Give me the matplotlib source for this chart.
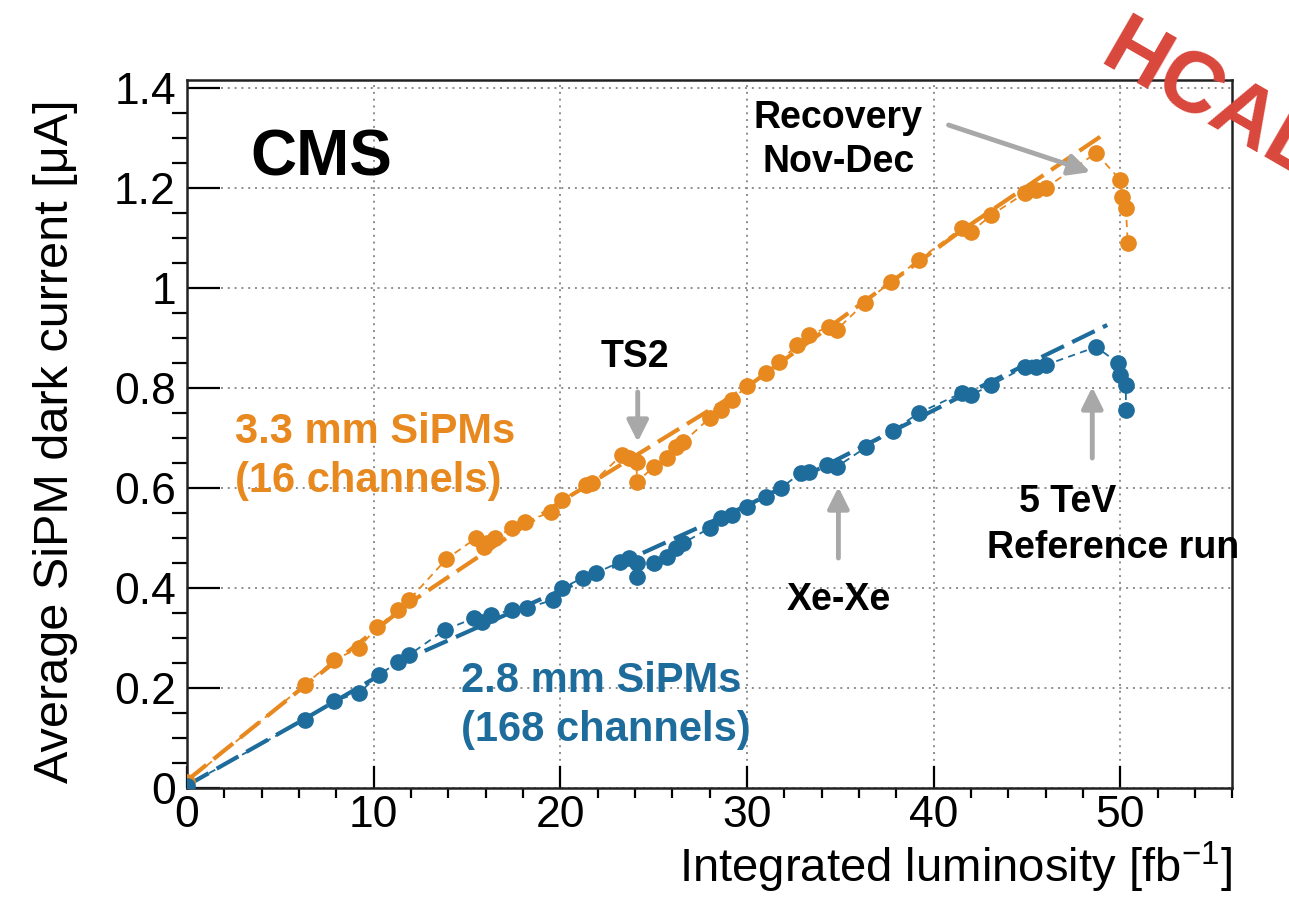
import matplotlib
matplotlib.use("Agg")
import matplotlib.pyplot as plt
import numpy as np
from matplotlib.ticker import MultipleLocator, FuncFormatter

plt.rcParams['font.family'] = ['Liberation Sans', 'DejaVu Sans']

# 3.3 mm SiPMs (16 channels)
orange_x = [0.0, 6.3, 7.9, 9.2, 10.2, 11.3, 11.9, 13.9, 15.5, 15.9, 16.1, 16.5, 17.4, 18.1,
            19.5, 20.1, 21.4, 21.7, 23.3, 23.7, 24.1, 24.1, 25.0, 25.7, 26.2, 26.6, 28.0,
            28.6, 29.2, 30.0, 31.0, 31.7, 32.7, 33.3, 34.4, 34.8, 36.3, 37.7, 39.2, 41.5,
            42.0, 43.1, 44.9, 45.5, 46.0, 48.7, 50.0, 50.1, 50.3, 50.4]
orange_y = [0.012, 0.206, 0.256, 0.280, 0.322, 0.356, 0.376, 0.458, 0.500, 0.482, 0.490,
            0.500, 0.520, 0.532, 0.552, 0.576, 0.606, 0.610, 0.666, 0.660, 0.652, 0.612,
            0.642, 0.660, 0.682, 0.692, 0.740, 0.756, 0.776, 0.804, 0.830, 0.852, 0.886,
            0.906, 0.922, 0.916, 0.970, 1.012, 1.056, 1.120, 1.112, 1.146, 1.190, 1.196,
            1.200, 1.270, 1.216, 1.182, 1.160, 1.090]
orange_err = 0.015

# 2.8 mm SiPMs (168 channels)
blue_x = [0.0, 6.3, 7.9, 9.2, 10.3, 11.3, 11.9, 13.8, 15.4, 15.8, 16.3, 17.4, 18.2, 19.6,
          20.1, 21.2, 21.9, 23.2, 23.7, 24.1, 24.1, 25.0, 25.7, 26.2, 26.6, 28.0, 28.6,
          29.2, 30.0, 31.0, 31.8, 32.9, 33.3, 34.3, 34.8, 36.4, 37.8, 39.2, 41.5, 42.0,
          43.1, 44.9, 45.5, 46.0, 48.7, 49.9, 50.0, 50.3, 50.3]
blue_y = [0.005, 0.136, 0.174, 0.190, 0.226, 0.252, 0.266, 0.316, 0.340, 0.332, 0.346,
          0.356, 0.360, 0.376, 0.400, 0.420, 0.430, 0.452, 0.460, 0.450, 0.422, 0.450,
          0.462, 0.480, 0.490, 0.520, 0.540, 0.546, 0.562, 0.582, 0.600, 0.630, 0.632,
          0.646, 0.642, 0.682, 0.714, 0.750, 0.790, 0.786, 0.806, 0.842, 0.842, 0.846,
          0.882, 0.850, 0.826, 0.806, 0.756]
blue_err = 0.006

# fit lines
orange_fit_x = [0.0, 6.3, 12.0, 20.0, 30.0, 41.5, 49.3]
orange_fit_y = [0.015, 0.204, 0.372, 0.572, 0.802, 1.115, 1.312]
blue_fit_x = [0.0, 6.3, 12.0, 20.0, 30.0, 41.5, 49.3]
blue_fit_y = [0.005, 0.138, 0.262, 0.395, 0.565, 0.784, 0.926]

c_orange = '#E8891F'
c_blue = '#1D6C9C'
c_arrow = '#A8A8A8'

fig = plt.figure(figsize=(12.89, 8.97), dpi=100)
ax = fig.add_axes([0.145, 0.1215, 0.811, 0.7893])

# fits
ax.plot(orange_fit_x, orange_fit_y, color=c_orange, lw=3, dashes=(6, 2.2), zorder=3)
ax.plot(blue_fit_x, blue_fit_y, color=c_blue, lw=3, dashes=(6, 2.2), zorder=3)

# data with thin dashed connection
ax.plot(orange_x, orange_y, color=c_orange, lw=1.3, dashes=(4, 3), zorder=4)
ax.plot(blue_x, blue_y, color=c_blue, lw=1.3, dashes=(4, 3), zorder=4)
ax.errorbar(orange_x, orange_y, yerr=orange_err, fmt='o', color=c_orange, ms=11,
            elinewidth=1.5, capsize=0, zorder=5)
ax.errorbar(blue_x, blue_y, yerr=blue_err, fmt='o', color=c_blue, ms=11,
            elinewidth=1.5, capsize=0, zorder=5)

ax.set_xlim(0, 56)
ax.set_ylim(0, 1.416)
ax.xaxis.set_major_locator(MultipleLocator(10))
ax.xaxis.set_minor_locator(MultipleLocator(2))
ax.yaxis.set_major_locator(MultipleLocator(0.2))
ax.yaxis.set_minor_locator(MultipleLocator(0.05))
ax.yaxis.set_major_formatter(FuncFormatter(lambda v, p: '%g' % round(v, 2)))
ax.tick_params(axis='both', direction='in', labelsize=32, width=1.6, top=False, right=False)
ax.tick_params(axis='x', which='major', length=16, pad=5)
ax.tick_params(axis='x', which='minor', length=7, width=1.6)
ax.tick_params(axis='y', which='major', length=24, pad=8)
ax.tick_params(axis='y', which='minor', length=11, width=1.6)
for s in ax.spines.values():
    s.set_linewidth(1.8)
    s.set_color('#222222')
ax.grid(True, which='major', color='#8c8c8c', ls=(0, (1, 2.5)), lw=1.4, zorder=0)
ax.set_axisbelow(True)

ax.set_xlabel('Integrated luminosity [fb$^{\\mathregular{-1}}$]', fontsize=34, ha='right', va='center')
ax.xaxis.set_label_coords(1.0, -0.112)
ax.set_ylabel('Average SiPM dark current [\u03bcA]', fontsize=35, va='center')
ax.yaxis.set_label_coords(-0.126, 0.49)

# labels
ax.text(7.2, 1.26, 'CMS', fontsize=46, fontweight='bold', ha='center', va='center')
ax.text(34.9, 1.32, 'Recovery', fontsize=27, fontweight='bold', ha='center', va='baseline')
ax.text(34.9, 1.232, 'Nov-Dec', fontsize=27, fontweight='bold', ha='center', va='baseline')
ax.text(24.0, 0.842, 'TS2', fontsize=27, fontweight='bold', ha='center', va='baseline')
ax.text(34.9, 0.356, 'Xe-Xe', fontsize=27, fontweight='bold', ha='center', va='baseline')
ax.text(47.2, 0.552, '5 TeV', fontsize=27, fontweight='bold', ha='center', va='baseline')
ax.text(49.6, 0.46, 'Reference run', fontsize=27, fontweight='bold', ha='center', va='baseline')

ax.text(2.6, 0.69, '3.3 mm SiPMs', fontsize=30, fontweight='bold', color=c_orange, va='baseline')
ax.text(2.6, 0.592, '(16 channels)', fontsize=30, fontweight='bold', color=c_orange, va='baseline')
ax.text(14.7, 0.192, '2.8 mm SiPMs', fontsize=30, fontweight='bold', color=c_blue, va='baseline')
ax.text(14.7, 0.094, '(168 channels)', fontsize=30, fontweight='bold', color=c_blue, va='baseline')

arrow = dict(arrowstyle='-|>', color=c_arrow, lw=3.5, mutation_scale=32, shrinkA=0, shrinkB=0)
ax.annotate('', xy=(48.4, 1.232), xytext=(40.8, 1.326), arrowprops=arrow, zorder=6)
ax.annotate('', xy=(24.15, 0.692), xytext=(24.15, 0.792), arrowprops=arrow, zorder=6)
ax.annotate('', xy=(34.9, 0.602), xytext=(34.9, 0.46), arrowprops=arrow, zorder=6)
ax.annotate('', xy=(48.5, 0.802), xytext=(48.5, 0.66), arrowprops=arrow, zorder=6)

fig.text(0.851, 0.930, 'HCAL', fontsize=62, fontweight='bold', color='#D9473C',
         rotation=-30, rotation_mode='anchor', ha='left', va='baseline')

fig.savefig('out.png', dpi=100)
